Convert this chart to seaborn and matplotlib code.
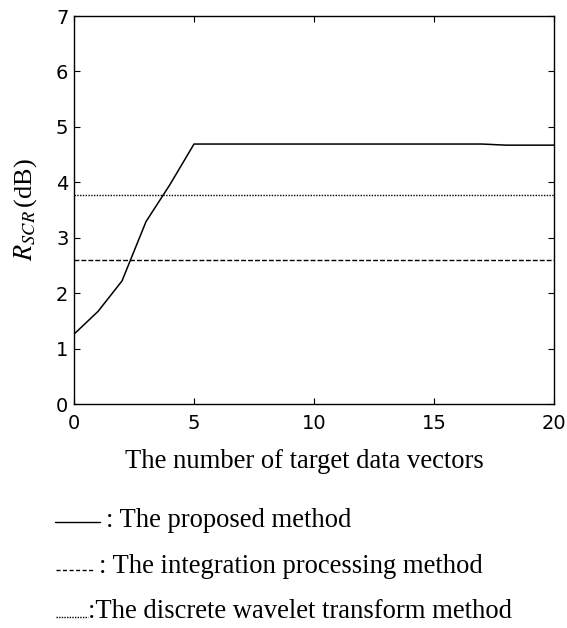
import matplotlib
matplotlib.use("Agg")
import matplotlib.pyplot as plt
import seaborn as sns
import pandas as pd
from matplotlib.lines import Line2D

# data
n_vectors = [0, 1, 2, 3, 4, 5, 6, 7, 8, 9, 10, 11, 12, 13, 14, 15, 16, 17, 18, 19, 20]
proposed = [1.26, 1.67, 2.22, 3.29, 3.96, 4.69, 4.69, 4.69, 4.69, 4.69, 4.69,
            4.69, 4.69, 4.69, 4.69, 4.69, 4.69, 4.69, 4.67, 4.67, 4.67]
integration_level = 2.59
dwt_level = 3.77
x_ticks = [0, 5, 10, 15, 20]
y_ticks = [0, 1, 2, 3, 4, 5, 6, 7]
legend_labels = [": The proposed method",
                 ": The integration processing method",
                 ":The discrete wavelet transform method"]

sns.set_style("ticks")
plt.rcParams["mathtext.fontset"] = "stix"
plt.rcParams["text.color"] = "black"
plt.rcParams["axes.labelcolor"] = "black"

W, H = 567, 628
fig = plt.figure(figsize=(W / 100, H / 100), dpi=100)
ax = fig.add_axes([74 / W, 1 - 404 / H, 480 / W, 388 / H])

df = pd.DataFrame({"n": n_vectors, "r": proposed})
sns.lineplot(data=df, x="n", y="r", ax=ax, color="black", linewidth=1.1)
ax.axhline(integration_level, color="black", linestyle=(0, (3.5, 1.5)), linewidth=1.0)
ax.axhline(dwt_level, color="black", linestyle=(0, (1, 1)), linewidth=1.0)

ax.set_xlim(0, 20)
ax.set_ylim(0, 7)
ax.set_xticks(x_ticks)
ax.set_yticks(y_ticks)
ax.tick_params(direction="in", top=True, right=True, length=4, width=0.8,
               labelsize=14, colors="black")
ax.tick_params(axis="x", pad=7)
ax.tick_params(axis="y", pad=4)
for s in ax.spines.values():
    s.set_linewidth(1.0)
    s.set_color("black")

ax.set_xlabel("")
ax.set_ylabel(r"$R_{SCR}\,$(dB)", family="Liberation Serif", fontsize=19,
              labelpad=12, color="black")
fig.text(304 / W, 1 - 468 / H, "The number of target data vectors",
         family="Liberation Serif", fontsize=19.2, ha="center", va="baseline",
         color="black")

# legend rows (sample line + text), placed below the axes
styles = ["-", (0, (2.9, 1.8)), (0, (1, 0.9))]
line_x = [(55, 100), (56, 95), (56, 88)]
line_y = [522, 570, 617]
text_x = [106, 99, 88]
text_y = [527, 573, 618]
for st, (x0, x1), ly, tx, ty, lab in zip(styles, line_x, line_y, text_x, text_y,
                                         legend_labels):
    fig.add_artist(Line2D([x0 / W, x1 / W], [1 - ly / H, 1 - ly / H],
                          transform=fig.transFigure, color="black",
                          linestyle=st, linewidth=1.0))
    fig.text(tx / W, 1 - ty / H, lab, family="Liberation Serif", fontsize=19.2,
             ha="left", va="baseline", color="black")

fig.savefig("out.png", dpi=100)
